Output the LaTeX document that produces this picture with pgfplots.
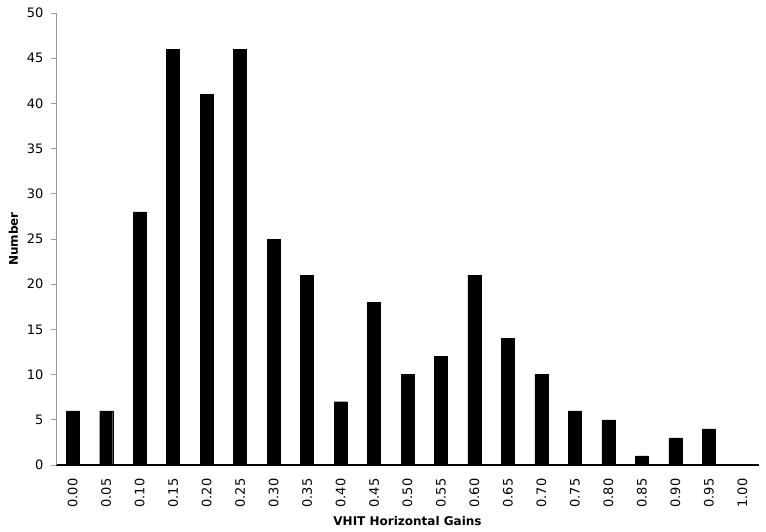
\documentclass[border=0pt]{standalone}
\usepackage{pgfplots}
\pgfplotsset{compat=1.18}
\usepackage{fontspec}
\setmainfont{DejaVu Sans}
\begin{document}
\begin{tikzpicture}
\useasboundingbox (0,0) rectangle (766pt,531pt);
\begin{axis}[
  at={(56pt,66pt)}, anchor=south west,
  scale only axis, width=703pt, height=452pt,
  xmin=-0.5, xmax=20.5, ymin=0, ymax=50,
  ytick={0,5,...,50},
  xtick={0,...,20},
  xticklabels={0.00,0.05,0.10,0.15,0.20,0.25,0.30,0.35,0.40,0.45,0.50,0.55,0.60,0.65,0.70,0.75,0.80,0.85,0.90,0.95,1.00},
  /pgf/number format/assume math mode=true,
  tick label style={font=\fontsize{13}{15}\selectfont},
  xticklabel style={rotate=90, anchor=east, xshift=-5pt},
  yticklabel style={xshift=-4pt},
  axis lines=left,
  axis line style={-},
  x axis line style={black, line width=1.2pt},
  y axis line style={gray!80, line width=1pt},
  x tick style={draw=none},
  y tick style={gray!80, line width=0.8pt},
  tick align=outside,
  major tick length=5pt,
  xlabel={\bfseries VHIT Horizontal Gains},
  ylabel={\bfseries Number},
  label style={font=\fontsize{12}{14}\selectfont},
  xlabel style={yshift=-2pt},
  ylabel style={yshift=2pt},
  ybar, bar width=13pt,
]
\addplot[fill=black, draw=black] coordinates {
(0,6) (1,6) (2,28) (3,46) (4,41) (5,46) (6,25) (7,21) (8,7) (9,18) (10,10)
(11,12) (12,21) (13,14) (14,10) (15,6) (16,5) (17,1) (18,3) (19,4) (20,0)
};
\end{axis}
\end{tikzpicture}
\end{document}
